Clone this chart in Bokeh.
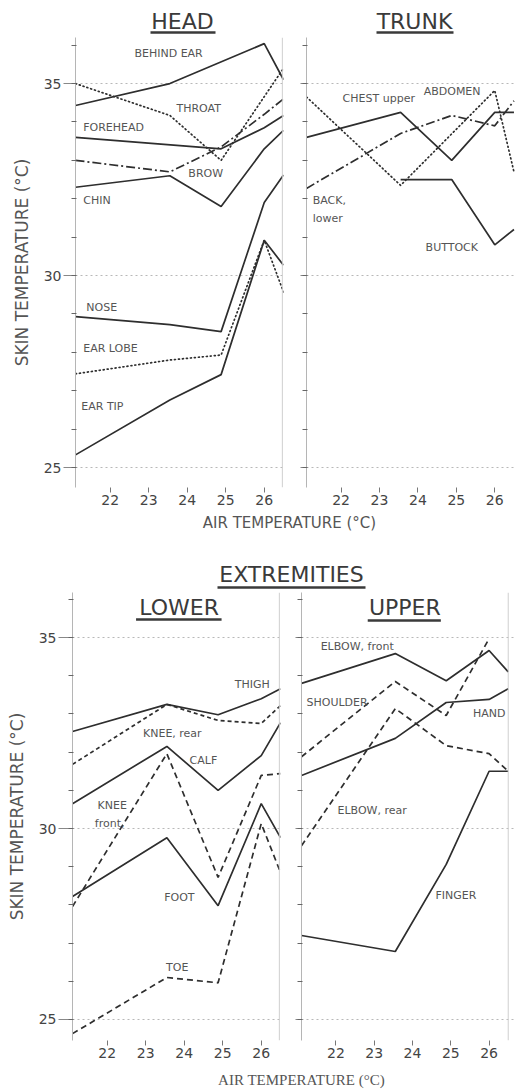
from bokeh.plotting import figure
from bokeh.layouts import column, row
from bokeh.models import Range1d, FixedTicker, Label, Span
from bokeh.embed import file_html
from bokeh.resources import INLINE

# ---------------- data ----------------
AIR_TICKS = [22, 23, 24, 25, 26]
SKIN_TICKS = [25, 30, 35]
SKIN_MINOR = list(range(25, 37))
X = [21.1, 23.55, 24.88, 26.0, 26.5]          # air temperatures of the measurements

# HEAD
behind_ear_x = [21.1, 23.55, 26.0, 26.5]
behind_ear = [34.43, 35.0, 36.04, 35.1]
throat_x = [21.1, 23.55, 24.88, 26.5]
throat = [35.0, 34.17, 33.0, 35.4]
forehead_x = [21.1, 24.88, 26.0, 26.5]
forehead = [33.6, 33.3, 33.85, 34.17]
brow = [33.0, 32.7, 33.35, 34.2, 34.6]
chin = [32.3, 32.6, 31.8, 33.3, 33.78]
nose = [28.93, 28.72, 28.54, 31.9, 32.62]
ear_lobe = [27.44, 27.8, 27.93, 30.92, 29.57]
ear_tip = [25.33, 26.76, 27.42, 30.92, 30.27]

# TRUNK
chest = [33.6, 34.25, 33.0, 34.25, 34.25]
back = [32.27, 33.7, 34.17, 33.9, 34.55]
abdomen_x = [21.1, 23.55, 26.0, 26.5]
abdomen = [34.65, 32.35, 34.82, 32.7]
buttock_x = [23.55, 24.88, 26.0, 26.5]
buttock = [32.5, 32.5, 30.8, 31.2]

# EXTREMITIES - LOWER
thigh = [32.54, 33.25, 32.98, 33.4, 33.66]
knee_rear = [31.68, 33.25, 32.83, 32.75, 33.22]
calf = [30.65, 32.15, 31.0, 31.91, 32.77]
knee_front = [27.96, 31.96, 28.72, 31.39, 31.44]
foot = [28.22, 29.76, 27.98, 30.65, 29.76]
toe = [24.63, 26.1, 25.96, 30.13, 28.85]

# EXTREMITIES - UPPER
elbow_front = [33.8, 34.58, 33.87, 34.66, 34.1]
shoulder_x = [21.1, 23.55, 24.88, 26.0]
shoulder = [31.88, 33.85, 32.96, 34.97]
hand = [31.39, 32.36, 33.3, 33.38, 33.66]
elbow_rear = [29.55, 33.14, 32.17, 31.96, 31.5]
finger = [27.2, 26.78, 29.06, 31.5, 31.5]

# series labels: (text, x, y)
HEAD_LABELS = [("BEHIND EAR", 22.63, 35.78), ("THROAT", 23.72, 34.35),
               ("FOREHEAD", 21.3, 33.85), ("BROW", 24.03, 32.66),
               ("CHIN", 21.3, 31.95), ("NOSE", 21.38, 29.18),
               ("EAR LOBE", 21.3, 28.09), ("EAR TIP", 21.25, 26.6)]
TRUNK_LABELS = [("CHEST upper", 22.04, 34.6), ("ABDOMEN", 24.15, 34.8),
                ("BACK,", 21.26, 31.95), ("lower", 21.26, 31.48),
                ("BUTTOCK", 24.2, 30.73)]
LOWER_LABELS = [("THIGH", 25.31, 33.77), ("KNEE, rear", 22.93, 32.49),
                ("CALF", 24.14, 31.78), ("KNEE", 21.75, 30.6),
                ("front,", 21.68, 30.13), ("FOOT", 23.48, 28.19),
                ("TOE", 23.53, 26.36)]
UPPER_LABELS = [("ELBOW, front", 21.6, 34.76), ("SHOULDER", 21.23, 33.3),
                ("HAND", 25.58, 33.0), ("ELBOW, rear", 22.04, 30.47),
                ("FINGER", 24.6, 28.25)]

YLABEL = "SKIN TEMPERATURE (°C)"
XLABEL = "AIR TEMPERATURE (°C)"

# ---------------- styles ----------------
FONT = "DejaVu Sans"
INK = "#2e2e2e"
TXT = "#555555"
SOLID, DOTTED, DASHDOT, DASHED = "solid", "1 3", "9 3 2 3", "6 4"
PAGE_W = 515


def panel(width, height, left, right, x_end, y_rng, tick_labels=True, ylab=None,
          tick_out=12, edge=None):
    p = figure(width=width, height=height, x_range=Range1d(21.1, x_end),
               y_range=Range1d(*y_rng), output_backend="svg", toolbar_location=None,
               min_border_left=left, min_border_right=right, min_border_top=0,
               min_border_bottom=24, outline_line_color=None,
               background_fill_color="white", border_fill_color="white")
    xa = p.xaxis[0]
    xa.ticker = FixedTicker(ticks=AIR_TICKS)
    xa.axis_line_color = None
    xa.minor_tick_line_color = None
    xa.major_tick_in = 0
    xa.major_tick_out = 5
    xa.major_tick_line_color = "#777777"
    xa.major_label_standoff = 2
    xa.major_label_text_font = FONT
    xa.major_label_text_font_size = "14px"
    xa.major_label_text_color = "#444444"

    ya = p.yaxis[0]
    ya.ticker = FixedTicker(ticks=SKIN_TICKS, minor_ticks=SKIN_MINOR)
    ya.axis_line_color = "#b5b5b5"
    ya.major_tick_in = 0
    ya.major_tick_out = tick_out
    ya.major_tick_line_color = "#888888"
    ya.minor_tick_in = 1
    ya.minor_tick_out = 4
    ya.minor_tick_line_color = "#666666"
    ya.major_label_standoff = 2
    ya.major_label_text_font = FONT
    ya.major_label_text_font_size = "14px"
    ya.major_label_text_color = "#444444"
    if not tick_labels:
        ya.major_label_overrides = {t: "" for t in SKIN_TICKS}
    if ylab:
        ya.axis_label = ylab
        ya.axis_label_text_font = FONT
        ya.axis_label_text_font_size = "17px"
        ya.axis_label_text_font_style = "normal"
        ya.axis_label_text_color = TXT
        ya.axis_label_standoff = 9

    p.xgrid.grid_line_color = None
    p.ygrid.ticker = FixedTicker(ticks=SKIN_TICKS)
    p.ygrid.grid_line_color = "#b8b8b8"
    p.ygrid.grid_line_dash = "2 3"
    if edge is not None:
        p.add_layout(Span(location=edge, dimension="height",
                          line_color="#cfcfcf", line_width=1))
    return p


def series(p, xs, ys, dash):
    p.line(xs, ys, line_color=INK, line_width=1.7, line_dash=dash,
           line_cap="round" if dash == DOTTED else "butt")


def labels(p, items, size="11px"):
    for t, x, y in items:
        p.add_layout(Label(x=x, y=y, text=t, text_font=FONT, text_font_size=size,
                           text_color=TXT, text_baseline="middle", text_align="left"))


def strip(h):
    s = figure(width=PAGE_W, height=h, x_range=Range1d(0, PAGE_W), y_range=Range1d(h, 0),
               output_backend="svg", toolbar_location=None, min_border=0,
               x_axis_type=None, y_axis_type=None, outline_line_color=None)
    s.grid.visible = False
    return s


def title(p, text, x, y, x0, x1, yu, size="22px"):
    p.add_layout(Label(x=x, y=y, text=text, text_font=FONT, text_font_size=size,
                       text_color="#3a3a3a", text_align="center", text_baseline="middle"))
    p.line([x0, x1], [yu, yu], line_color="#3a3a3a", line_width=2.5)


# ---------------- row 1: HEAD / TRUNK ----------------
top_strip = strip(37)
title(top_strip, "HEAD", 182, 21, 150, 215, 32)
title(top_strip, "TRUNK", 414, 21, 376, 453, 32)

Y1 = (24.48, 36.2)
head = panel(294, 474, 75, 11, 26.5, Y1, True, YLABEL, 12, edge=26.47)
series(head, behind_ear_x, behind_ear, SOLID)
series(head, throat_x, throat, DOTTED)
series(head, forehead_x, forehead, SOLID)
series(head, X, brow, DASHDOT)
series(head, X, chin, SOLID)
series(head, X, nose, SOLID)
series(head, X, ear_lobe, DOTTED)
series(head, X, ear_tip, SOLID)
labels(head, HEAD_LABELS)

trunk = panel(221, 474, 12, 0, 26.54, Y1, False, None, 6)
series(trunk, X, chest, SOLID)
series(trunk, X, back, DASHDOT)
series(trunk, abdomen_x, abdomen, DOTTED)
series(trunk, buttock_x, buttock, SOLID)
labels(trunk, TRUNK_LABELS)

mid_strip = strip(81)
mid_strip.add_layout(Label(x=289, y=11, text=XLABEL, text_font=FONT, text_font_size="15px",
                           text_color=TXT, text_align="center", text_baseline="middle"))
title(mid_strip, "EXTREMITIES", 291, 63, 217, 365, 76)

# ---------------- row 2: LOWER / UPPER ----------------
Y2 = (24.45, 36.18)
lower = panel(289, 472, 72, 9, 26.5, Y2, True, YLABEL, 14, edge=26.47)
series(lower, X, thigh, SOLID)
series(lower, X, knee_rear, "4 3")
series(lower, X, calf, SOLID)
series(lower, X, knee_front, DASHED)
series(lower, X, foot, SOLID)
series(lower, X, toe, DASHED)
labels(lower, LOWER_LABELS)
title(lower, "LOWER", 23.87, 35.79, 22.75, 24.97, 35.47)

upper = panel(226, 472, 12, 0, 26.69, Y2, False, None, 6, edge=26.5)
series(upper, X, elbow_front, SOLID)
series(upper, shoulder_x, shoulder, DASHED)
series(upper, X, hand, SOLID)
series(upper, X, elbow_rear, DASHED)
series(upper, X, finger, SOLID)
labels(upper, UPPER_LABELS)
title(upper, "UPPER", 23.8, 35.8, 22.83, 24.74, 35.45)

bot_strip = strip(26)
bot_strip.add_layout(Label(x=301, y=15, text=XLABEL, text_font="Liberation Serif",
                           text_font_size="15px", text_color=TXT, text_align="center",
                           text_baseline="middle"))

layout = column(top_strip, row(head, trunk), mid_strip, row(lower, upper), bot_strip)
open("out.html", "w").write(file_html(layout, INLINE))
